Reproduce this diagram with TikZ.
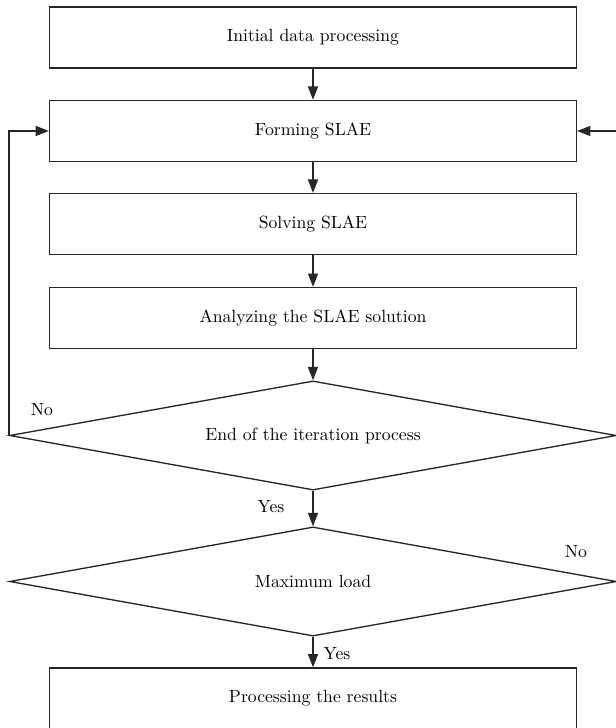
\documentclass[tikz,border=0pt]{standalone}
\usetikzlibrary{shapes.geometric,arrows.meta}

\begin{document}
\begin{tikzpicture}[
    x=0.6pt, y=-0.6pt,
    box/.style={draw=black!85, line width=0.9pt, rectangle, minimum width=316pt,
                minimum height=36.5pt, inner sep=0pt, text centered,
                font=\fontsize{10.6}{12}\selectfont},
    decision/.style={draw=black!85, line width=0.8pt, diamond, aspect=5.56,
                minimum width=364pt, minimum height=65.5pt, inner sep=0pt,
                text centered, font=\fontsize{10.6}{12}\selectfont},
    arrow/.style={-{Triangle[length=8pt,width=6pt]}, line width=0.9pt, draw=black!85},
    lbl/.style={font=\fontsize{10.6}{12}\selectfont, inner sep=0pt}
]
    \useasboundingbox (0,0) rectangle (616,728);

    \node[box] (init) at (313, 37.5) {Initial data processing};
    \node[box] (form) at (313, 131) {Forming SLAE};
    \node[box] (solve) at (313, 224) {Solving SLAE};
    \node[box] (analyze) at (313, 318) {Analyzing the SLAE solution};

    \node[decision] (iter) at (313, 435.5) {End of the iteration process};
    \node[decision] (maxload) at (313, 581.5) {Maximum load};

    \node[box] (results) at (313, 698.5) {Processing the results};

    \coordinate (leftup) at (iter.west |- form.west);
    \coordinate (rightup) at (maxload.east |- form.east);

    \draw[arrow] (init) -- (form);
    \draw[arrow] (form) -- (solve);
    \draw[arrow] (solve) -- (analyze);
    \draw[arrow] (analyze) -- (iter);
    \draw[arrow] (iter) -- (maxload);
    \draw[arrow] (maxload) -- (results);
    \draw[arrow] (iter.west) -- (leftup) -- (form.west);
    \draw[arrow] (maxload.east) -- (rightup) -- (form.east);

    \node[lbl] (no1) at (42, 410) {No};
    \node[lbl] (yes1) at (271, 507) {Yes};
    \node[lbl] (no2) at (576, 552) {No};
    \node[lbl] (yes2) at (337, 654) {Yes};
\end{tikzpicture}
\end{document}
